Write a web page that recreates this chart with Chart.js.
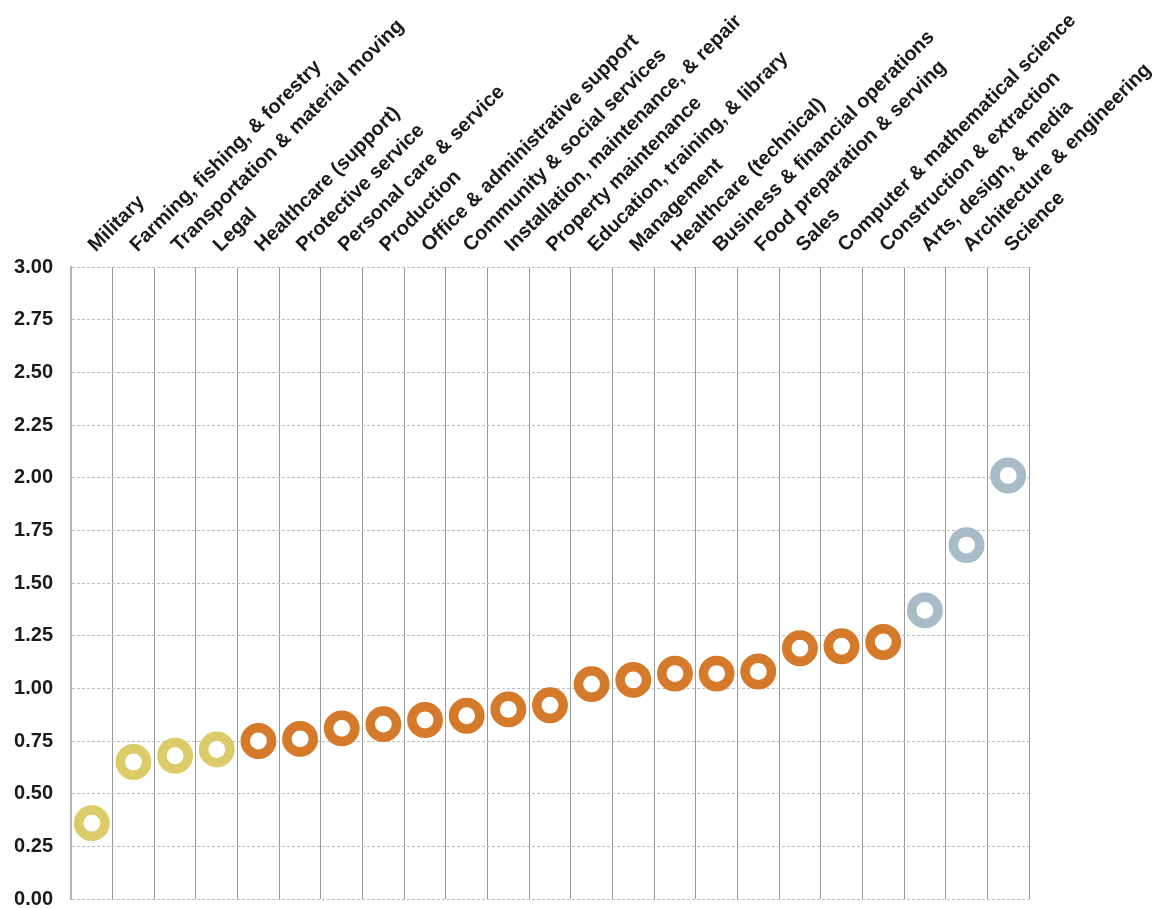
<!DOCTYPE html>
<html>
<head>
<meta charset="utf-8">
<script src="https://cdn.jsdelivr.net/npm/chart.js@4/dist/chart.umd.min.js"></script>
<style>
  html, body { margin: 0; padding: 0; background: #fff; }
  #wrap { width: 1154px; height: 909px; position: relative; }
</style>
</head>
<body>
<div id="wrap"><canvas id="chart"></canvas></div>
<script>
// Occupation groups, sorted by ratio
const categories = [
  "Military", "Farming, fishing, & forestry", "Transportation & material moving",
  "Legal", "Healthcare (support)", "Protective service", "Personal care & service",
  "Production", "Office & administrative support", "Community & social services",
  "Installation, maintenance, & repair", "Property maintenance",
  "Education, training, & library", "Management", "Healthcare (technical)",
  "Business & financial operations", "Food preparation & serving", "Sales",
  "Computer & mathematical science", "Construction & extraction",
  "Arts, design, & media", "Architecture & engineering", "Science"
];

const values = [
  0.36, 0.65, 0.68, 0.71, 0.75, 0.76, 0.81, 0.83, 0.85, 0.87, 0.90, 0.92,
  1.02, 1.04, 1.07, 1.07, 1.08, 1.19, 1.20, 1.22, 1.37, 1.68, 2.01
];

// colour group of each point
const groups = [
  "low", "low", "low", "low",
  "mid", "mid", "mid", "mid", "mid", "mid", "mid", "mid",
  "mid", "mid", "mid", "mid", "mid", "mid", "mid", "mid",
  "high", "high", "high"
];

const yTicks = [0, 0.25, 0.5, 0.75, 1, 1.25, 1.5, 1.75, 2, 2.25, 2.5, 2.75, 3];

const groupColors = { low: "#dccb69", mid: "#d5792b", high: "#a7bcc7" };
const FONT = "'Liberation Sans', Arial, sans-serif";

new Chart(document.getElementById("chart").getContext("2d"), {
  type: "line",
  data: {
    labels: categories,
    datasets: [{
      data: values,
      showLine: false,
      pointRadius: 13.2,
      pointHoverRadius: 13.2,
      pointBorderWidth: 9.5,
      pointBackgroundColor: "#ffffff",
      pointBorderColor: groups.map(g => groupColors[g])
    }]
  },
  options: {
    responsive: true,
    maintainAspectRatio: false,
    animation: false,
    layout: { autoPadding: false, padding: { top: 0, right: 125, bottom: 10, left: 12 } },
    plugins: {
      legend: { display: false },
      tooltip: { enabled: false }
    },
    scales: {
      x: {
        position: "top",
        offset: true,
        grid: { offset: true, color: "#999", lineWidth: 1, drawTicks: false },
        border: { display: false },
        ticks: {
          autoSkip: false,
          minRotation: 45,
          maxRotation: 45,
          padding: 10,
          labelOffset: 17,
          color: "#1a1a1a",
          font: { family: FONT, size: 20, weight: "bold" }
        },
        afterFit: s => { s.height = 267; s.paddingLeft = 0; s.paddingRight = 0; }
      },
      y: {
        min: 0,
        max: 3,
        afterBuildTicks: s => { s.ticks = yTicks.map(v => ({ value: v })); },
        grid: { color: "#bdbdbd", lineWidth: 1, drawTicks: false },
        border: { display: true, color: "#b5b5b5", width: 2, dash: [3, 2] },
        ticks: {
          padding: 18,
          color: "#1a1a1a",
          font: { family: FONT, size: 20, weight: "bold" },
          callback: v => Number(v).toFixed(2)
        },
        afterFit: s => { s.width = 59; s.paddingTop = 0; s.paddingBottom = 0; }
      }
    }
  }
});
</script>
</body>
</html>
